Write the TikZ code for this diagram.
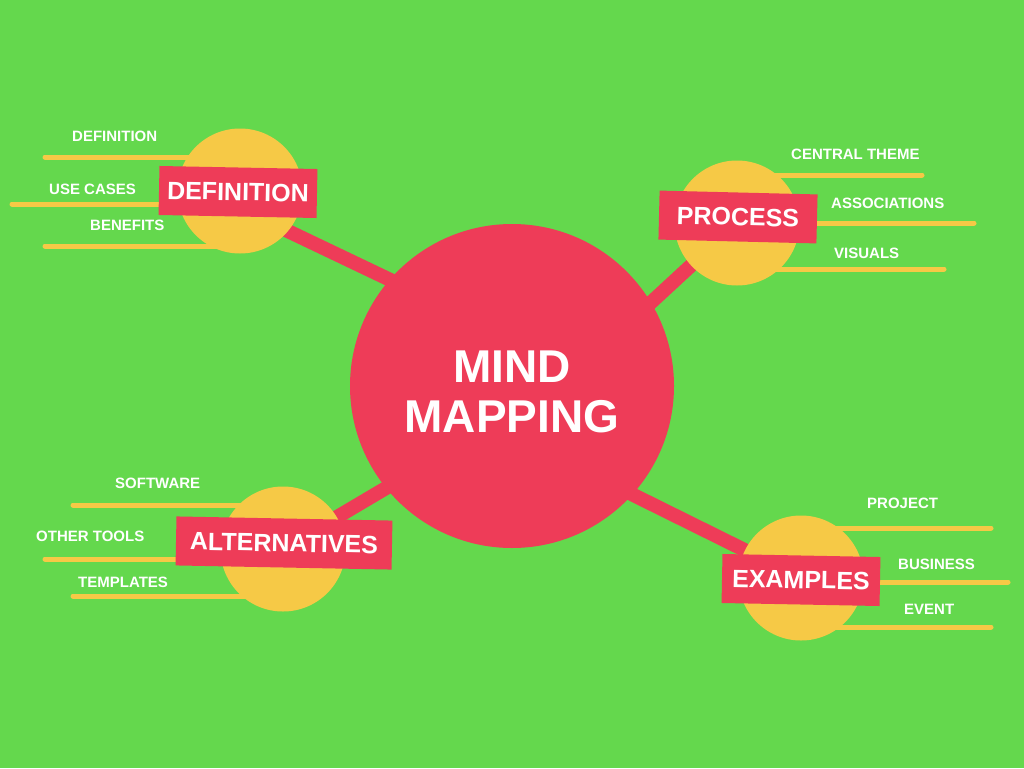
\documentclass[tikz,border=0pt]{standalone}
\usepackage{fontspec}
\setmainfont{Liberation Sans}
\definecolor{bgc}{RGB}{100,216,77}
\definecolor{rd}{RGB}{238,60,88}
\definecolor{yl}{RGB}{246,201,70}
\pgfdeclarelayer{backlayer}
\pgfdeclarelayer{twiglayer}
\pgfsetlayers{backlayer,twiglayer,main}
\begin{document}
\begin{tikzpicture}[x=1pt,y=-1pt,
 hub/.style={circle,fill=rd,minimum size=324pt,inner sep=0pt},
 sub/.style={circle,fill=yl,minimum size=125pt,inner sep=0pt},
 tag/.style={fill=rd,text=white,minimum height=49pt,inner sep=0pt,font=\fontsize{25}{30}\selectfont\bfseries},
 leaf/.style={text=white,inner sep=0pt,anchor=west,font=\fontsize{15}{18}\selectfont\bfseries},
 twig/.style={yl,line width=5pt,line cap=round},
 bar/.style={rd,line width=14pt,shorten >=-25pt}]
\begin{pgfonlayer}{backlayer}
\fill[bgc] (0,0) rectangle (1024,768);
\end{pgfonlayer}
\useasboundingbox (0,0) rectangle (1024,768);

% hub and sub circles
\node[hub] (hub) at (512,386) {};
\node[text=white,align=center,inner sep=0pt,font=\fontsize{46}{50}\selectfont\bfseries] (title) at (512,392) {MIND\\MAPPING};
\node[sub] (def) at (240,191) {};
\node[sub] (proc) at (737,223) {};
\node[sub] (alt) at (283,549) {};
\node[sub] (ex) at (801,578) {};

% twig start coordinates
\coordinate (d1) at (45,157);
\coordinate (d2) at (12,204);
\coordinate (d3) at (45,246);
\coordinate (p1) at (922,175);
\coordinate (p2) at (974,223);
\coordinate (p3) at (944,269);
\coordinate (a1) at (73,505);
\coordinate (a2) at (45,559);
\coordinate (a3) at (73,596);
\coordinate (e1) at (991,528);
\coordinate (e2) at (1008,582);
\coordinate (e3) at (991,627);
\coordinate (defbar) at (250,213);

\begin{pgfonlayer}{twiglayer}
\draw[twig] (d1) -- (d1 -| def.center);
\draw[twig] (d2) -- (d2 -| def.center);
\draw[twig] (d3) -- (d3 -| def.center);
\draw[twig] (p1) -- (p1 -| proc.center);
\draw[twig] (p2) -- (p2 -| proc.center);
\draw[twig] (p3) -- (p3 -| proc.center);
\draw[twig] (a1) -- (a1 -| alt.center);
\draw[twig] (a2) -- (a2 -| alt.center);
\draw[twig] (a3) -- (a3 -| alt.center);
\draw[twig] (e1) -- (e1 -| ex.center);
\draw[twig] (e2) -- (e2 -| ex.center);
\draw[twig] (e3) -- (e3 -| ex.center);
\draw[bar] (defbar) -- (hub.139);
\draw[bar] (proc.center) -- (hub.31);
\draw[bar] (alt.center) -- (hub.219);
\draw[bar] (ex.center) -- (hub.318);
\end{pgfonlayer}

% tags
\node[tag,minimum width=158pt,rotate=-1.1] (deft) at (238,192) {DEFINITION};
\node[tag,minimum width=158pt,rotate=-1.4] (proct) at (738,217) {PROCESS};
\node[tag,minimum width=216pt,rotate=-1.1] (altt) at (284,543) {ALTERNATIVES};
\node[tag,minimum width=158pt,rotate=-1.1] (ext) at (801,580) {EXAMPLES};

% leaves
\node[leaf] (ld1) at (72,136) {DEFINITION};
\node[leaf] (ld2) at (49,189) {USE CASES};
\node[leaf] (ld3) at (90,225) {BENEFITS};
\node[leaf] (lp1) at (791,154) {CENTRAL THEME};
\node[leaf] (lp2) at (831,203) {ASSOCIATIONS};
\node[leaf] (lp3) at (834,253) {VISUALS};
\node[leaf] (la1) at (115,483) {SOFTWARE};
\node[leaf] (la2) at (36,536) {OTHER TOOLS};
\node[leaf] (la3) at (78,582) {TEMPLATES};
\node[leaf] (le1) at (867,503) {PROJECT};
\node[leaf] (le2) at (898,564) {BUSINESS};
\node[leaf] (le3) at (904,609) {EVENT};
\end{tikzpicture}
\end{document}
